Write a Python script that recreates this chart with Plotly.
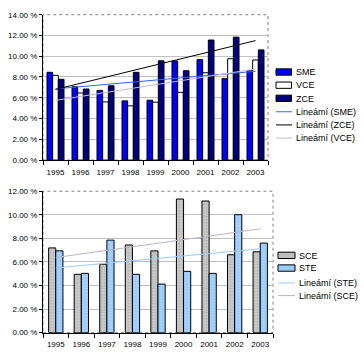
import numpy as np
import plotly.graph_objects as go

# ---------------- data ----------------
years = ["1995", "1996", "1997", "1998", "1999", "2000", "2001", "2002", "2003"]
SME = [8.45, 7.06, 6.71, 5.70, 5.76, 9.54, 9.67, 7.84, 8.60]
VCE = [8.16, 6.46, 5.60, 5.22, 5.57, 6.52, 8.41, 9.76, 9.64]
ZCE = [7.78, 6.84, 7.15, 8.45, 9.56, 8.60, 11.56, 11.84, 10.61]
SCE = [7.19, 4.95, 5.81, 7.44, 6.94, 11.34, 11.17, 6.61, 6.86]
STE = [6.94, 5.03, 7.85, 4.95, 4.12, 5.20, 5.03, 10.01, 7.60]

top_legend = ["SME", "VCE", "ZCE", "Lineámí (SME)", "Lineámí (ZCE)", "Lineámí (VCE)"]
bot_legend = ["SCE", "STE", "Lineámí (STE)", "Lineámí (SCE)"]

W, H = 364, 363
FONT = "Liberation Sans, Arial, sans-serif"


def px_x(x):
    return x / W


def px_y(y):
    return 1 - y / H


def trend(vals):
    xs = np.arange(len(vals))
    k, b = np.polyfit(xs, vals, 1)
    return list(k * xs + b)


fig = go.Figure()

# ---------------- top chart ----------------
bar_line = dict(color="black", width=1)
fig.add_trace(go.Bar(x=years, y=SME, marker=dict(color="#0000FF", line=bar_line),
                     xaxis="x", yaxis="y", name="SME"))
fig.add_trace(go.Bar(x=years, y=VCE, marker=dict(color="#FFFFFF", line=bar_line),
                     xaxis="x", yaxis="y", name="VCE"))
fig.add_trace(go.Bar(x=years, y=ZCE, marker=dict(color="#000080", line=bar_line),
                     xaxis="x", yaxis="y", name="ZCE"))
fig.add_trace(go.Scatter(x=years, y=trend(SME), mode="lines", line=dict(color="#3366FF", width=1),
                         xaxis="x", yaxis="y"))
fig.add_trace(go.Scatter(x=years, y=trend(ZCE), mode="lines", line=dict(color="#000000", width=1),
                         xaxis="x", yaxis="y"))
fig.add_trace(go.Scatter(x=years, y=trend(VCE), mode="lines", line=dict(color="#C4BCC8", width=1),
                         xaxis="x", yaxis="y"))

# ---------------- bottom chart ----------------
fig.add_trace(go.Bar(x=years, y=SCE, width=0.28, offset=-0.28,
                     marker=dict(color="#C0C0C0", line=bar_line,
                                 pattern=dict(shape=".", fgcolor="#9A9A9A", bgcolor="#C8C8C8",
                                              size=3, solidity=0.25)),
                     xaxis="x2", yaxis="y2", name="SCE"))
fig.add_trace(go.Bar(x=years, y=STE, width=0.28, offset=0.0,
                     marker=dict(color="#99CCFF", line=bar_line,
                                 pattern=dict(shape=".", fgcolor="#CCE6FF", bgcolor="#99CCFF",
                                              size=3, solidity=0.25)),
                     xaxis="x2", yaxis="y2", name="STE"))
fig.add_trace(go.Scatter(x=years, y=trend(STE), mode="lines", line=dict(color="#99CCFF", width=1),
                         xaxis="x2", yaxis="y2"))
fig.add_trace(go.Scatter(x=years, y=trend(SCE), mode="lines", line=dict(color="#BDB2C4", width=1),
                         xaxis="x2", yaxis="y2"))

axis_font = dict(family=FONT, size=8, color="black")
xcommon = dict(type="category", showline=True, linecolor="black", linewidth=1,
               ticks="outside", ticklen=4, tickcolor="black", tickson="boundaries",
               tickangle=0, ticklabelstandoff=4, showgrid=False, tickfont=axis_font,
               zeroline=False, fixedrange=True)
ycommon = dict(showline=True, linecolor="black", linewidth=1, ticks="outside", ticklen=3,
               tickcolor="black", showgrid=True, gridcolor="#C0C0C0", gridwidth=1,
               tickformat=".2f", ticksuffix=" %", dtick=2, tickfont=axis_font,
               zeroline=False, fixedrange=True)

top_x0, top_x1, top_y0, top_y1 = 43, 268, 160, 11
bot_x0, bot_x1, bot_y0, bot_y1 = 43, 273, 337, 192

fig.update_layout(
    width=W, height=H,
    margin=dict(l=0, r=0, t=0, b=0),
    paper_bgcolor="white", plot_bgcolor="white",
    showlegend=False,
    barmode="group",
    bargap=0.32, bargroupgap=0,
    font=dict(family=FONT, size=9, color="black"),
    xaxis=dict(domain=[px_x(top_x0), px_x(top_x1)], anchor="y", **xcommon),
    yaxis=dict(domain=[px_y(top_y0), px_y(top_y1)], anchor="x", range=[0, 14], **ycommon),
    xaxis2=dict(domain=[px_x(bot_x0), px_x(bot_x1)], anchor="y2", **xcommon),
    yaxis2=dict(domain=[px_y(bot_y0), px_y(bot_y1)], anchor="x2", range=[0, 12], **ycommon),
)

shapes = []
# plot area borders (dotted gray)
for (x0, x1, y0, y1) in [(top_x0, top_x1, top_y0, top_y1), (bot_x0, bot_x1, bot_y0, bot_y1)]:
    shapes.append(dict(type="rect", xref="paper", yref="paper",
                       x0=px_x(x0), x1=px_x(x1), y0=px_y(y0), y1=px_y(y1),
                       line=dict(color="#808080", width=1, dash="dot"), layer="below"))

annotations = []
leg_font = dict(family=FONT, size=9, color="black")

# top legend
top_rows = [70, 83.5, 97, 110.5, 124, 137.5]
top_swatch = [("bar", "#0000FF"), ("bar", "#FFFFFF"), ("bar", "#000080"),
              ("line", "#3366FF"), ("line", "#000000"), ("line", "#C4BCC8")]
for label, yy, (kind, col) in zip(top_legend, top_rows, top_swatch):
    if kind == "bar":
        shapes.append(dict(type="rect", xref="paper", yref="paper",
                           x0=px_x(276), x1=px_x(291.5), y0=px_y(yy + 3), y1=px_y(yy - 3.5),
                           fillcolor=col, line=dict(color="black", width=1)))
    else:
        shapes.append(dict(type="line", xref="paper", yref="paper",
                           x0=px_x(276), x1=px_x(292), y0=px_y(yy), y1=px_y(yy),
                           line=dict(color=col, width=1)))
    annotations.append(dict(text=label, xref="paper", yref="paper", x=px_x(294), y=px_y(yy),
                            xanchor="left", yanchor="middle", showarrow=False, font=leg_font))

# bottom legend
bot_rows = [258, 271, 286, 299]
bot_swatch = [("bar", "#C0C0C0"), ("bar", "#99CCFF"), ("line", "#99CCFF"), ("line", "#BDB2C4")]
for label, yy, (kind, col) in zip(bot_legend, bot_rows, bot_swatch):
    if kind == "bar":
        shapes.append(dict(type="rect", xref="paper", yref="paper",
                           x0=px_x(278), x1=px_x(295), y0=px_y(yy + 3), y1=px_y(yy - 3.5),
                           fillcolor=col, line=dict(color="black", width=1)))
    else:
        shapes.append(dict(type="line", xref="paper", yref="paper",
                           x0=px_x(278), x1=px_x(295), y0=px_y(yy), y1=px_y(yy),
                           line=dict(color=col, width=1)))
    annotations.append(dict(text=label, xref="paper", yref="paper", x=px_x(296.5), y=px_y(yy),
                            xanchor="left", yanchor="middle", showarrow=False, font=leg_font))

fig.update_layout(shapes=shapes, annotations=annotations)

fig.write_html("out.html",
               config={"displayModeBar": False, "staticPlot": True},
               post_script="document.body.style.margin='0';document.body.style.overflow='hidden';")
